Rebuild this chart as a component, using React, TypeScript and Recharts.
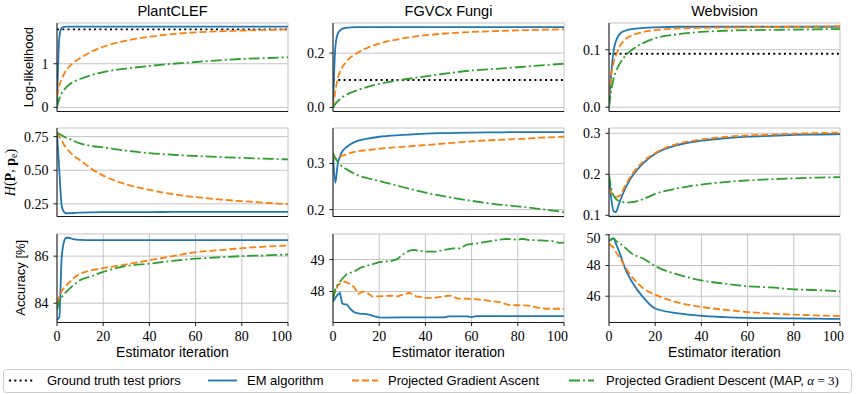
import React from 'react';
import { LineChart, Line, XAxis, YAxis, CartesianGrid } from 'recharts';

// ---------- categories / labels ----------
const DATASETS = ['PlantCLEF', 'FGVCx Fungi', 'Webvision'];
const X_LABEL = 'Estimator iteration';
const X_TICKS = [0, 20, 40, 60, 80, 100];
const ITER = [0, 1, 2, 3, 4, 5, 7, 10, 15, 20, 30, 40, 50, 60, 70, 80, 90, 100];

// ---------- PlantCLEF ----------
const plantLL_gt = 1.79;
const plantLL_em = [0, 1.6, 1.82, 1.845, 1.85, 1.85, 1.85, 1.85, 1.85, 1.85, 1.85, 1.85, 1.85, 1.85, 1.85, 1.85, 1.85, 1.85];
const plantLL_pga = [0.25, 0.5, 0.65, 0.76, 0.85, 0.92, 1.02, 1.13, 1.28, 1.39, 1.53, 1.62, 1.68, 1.72, 1.745, 1.76, 1.775, 1.785];
const plantLL_pgd = [0, 0.2, 0.32, 0.4, 0.46, 0.51, 0.58, 0.65, 0.74, 0.81, 0.89, 0.95, 1.0, 1.04, 1.08, 1.11, 1.13, 1.15];

const plantH_em = [0.78, 0.5, 0.24, 0.19, 0.18, 0.18, 0.182, 0.185, 0.187, 0.188, 0.189, 0.189, 0.19, 0.19, 0.19, 0.19, 0.19, 0.19];
const plantH_pga = [0.78, 0.75, 0.72, 0.69, 0.665, 0.645, 0.61, 0.575, 0.51, 0.46, 0.395, 0.354, 0.322, 0.3, 0.283, 0.27, 0.258, 0.248];
const plantH_pgd = [0.78, 0.77, 0.76, 0.75, 0.74, 0.735, 0.72, 0.7, 0.68, 0.67, 0.645, 0.627, 0.615, 0.606, 0.598, 0.592, 0.586, 0.58];

const plantAcc_em = [83.3, 83.4, 85.9, 86.6, 86.78, 86.78, 86.72, 86.69, 86.68, 86.68, 86.68, 86.68, 86.68, 86.68, 86.68, 86.68, 86.68, 86.68];
const plantAcc_pga = [84.0, 84.3, 84.5, 84.65, 84.75, 84.85, 85.05, 85.25, 85.4, 85.49, 85.65, 85.82, 86.0, 86.17, 86.25, 86.34, 86.4, 86.45];
const plantAcc_pgd = [83.7, 84.1, 84.25, 84.38, 84.48, 84.58, 84.75, 84.98, 85.15, 85.33, 85.58, 85.68, 85.8, 85.89, 85.95, 86.0, 86.03, 86.07];

// ---------- FGVCx Fungi ----------
const fungiLL_gt = 0.101;
const fungiLL_em = [0, 0.22, 0.27, 0.283, 0.29, 0.292, 0.294, 0.296, 0.296, 0.296, 0.296, 0.296, 0.296, 0.296, 0.296, 0.296, 0.296, 0.296];
const fungiLL_pga = [0, 0.06, 0.105, 0.13, 0.148, 0.16, 0.18, 0.198, 0.22, 0.235, 0.254, 0.266, 0.273, 0.278, 0.281, 0.284, 0.286, 0.288];
const fungiLL_pgd = [0, 0.012, 0.022, 0.03, 0.037, 0.043, 0.052, 0.062, 0.076, 0.087, 0.102, 0.114, 0.126, 0.136, 0.142, 0.148, 0.155, 0.161];

const fungiH_em = [0.321, 0.258, 0.297, 0.315, 0.326, 0.332, 0.34, 0.348, 0.354, 0.358, 0.362, 0.365, 0.366, 0.367, 0.3675, 0.368, 0.368, 0.368];
const fungiH_pga = [0.32, 0.31, 0.312, 0.315, 0.317, 0.318, 0.322, 0.326, 0.329, 0.332, 0.336, 0.34, 0.344, 0.348, 0.351, 0.353, 0.356, 0.358];
const fungiH_pgd = [0.322, 0.312, 0.304, 0.298, 0.293, 0.29, 0.284, 0.276, 0.268, 0.262, 0.249, 0.237, 0.227, 0.219, 0.212, 0.207, 0.201, 0.195];

const fungiAcc_em_x = [0, 1, 2, 3, 4, 5, 6, 7, 8, 9, 10, 12, 14, 16, 18, 20, 22, 30, 40, 48, 50, 58, 60, 62, 70, 80, 90, 100];
const fungiAcc_em = [47.69, 47.8, 47.9, 47.95, 47.62, 47.6, 47.6, 47.5, 47.42, 47.36, 47.33, 47.3, 47.3, 47.27, 47.22, 47.19, 47.18, 47.19, 47.19, 47.19, 47.22, 47.22, 47.2, 47.23, 47.23, 47.23, 47.23, 47.23];
const fungiAcc_pga_x = [0, 1, 2, 3, 5, 7, 9, 11, 13, 15, 17, 20, 25, 28, 33, 36, 40, 44, 48, 51, 54, 60, 65, 68, 72, 76, 80, 85, 88, 92, 100];
const fungiAcc_pga = [47.8, 48.0, 48.19, 48.24, 48.31, 48.25, 48.15, 47.93, 48.0, 47.95, 47.84, 47.85, 47.87, 47.85, 47.96, 47.85, 47.8, 47.8, 47.85, 47.87, 47.78, 47.77, 47.74, 47.7, 47.67, 47.58, 47.57, 47.56, 47.5, 47.46, 47.46];
const fungiAcc_pgd_x = [0, 1, 2, 4, 6, 8, 10, 12, 15, 20, 25, 28, 30, 33, 35, 40, 45, 48, 52, 55, 58, 62, 65, 70, 75, 80, 82, 85, 90, 95, 98, 100];
const fungiAcc_pgd = [47.75, 48.08, 48.2, 48.4, 48.55, 48.6, 48.66, 48.75, 48.81, 48.92, 48.95, 49.02, 49.15, 49.28, 49.3, 49.25, 49.25, 49.3, 49.35, 49.35, 49.47, 49.5, 49.54, 49.6, 49.65, 49.62, 49.65, 49.61, 49.6, 49.58, 49.52, 49.53];

// ---------- Webvision ----------
const webLL_gt = 0.093;
const webLL_em = [0, 0.06, 0.098, 0.115, 0.124, 0.129, 0.133, 0.136, 0.138, 0.139, 0.14, 0.14, 0.14, 0.14, 0.14, 0.14, 0.14, 0.14];
const webLL_pga = [0.02, 0.055, 0.078, 0.09, 0.1, 0.108, 0.118, 0.125, 0.131, 0.134, 0.137, 0.138, 0.1385, 0.139, 0.1395, 0.14, 0.1405, 0.141];
const webLL_pgd = [0, 0.03, 0.05, 0.062, 0.071, 0.078, 0.089, 0.1, 0.112, 0.12, 0.127, 0.131, 0.133, 0.134, 0.1345, 0.135, 0.1355, 0.136];

const webH_em = [0.196, 0.14, 0.11, 0.108, 0.122, 0.138, 0.165, 0.195, 0.228, 0.25, 0.272, 0.282, 0.288, 0.292, 0.294, 0.296, 0.297, 0.298];
const webH_pga = [0.165, 0.155, 0.148, 0.145, 0.146, 0.15, 0.172, 0.2, 0.232, 0.252, 0.275, 0.285, 0.291, 0.295, 0.297, 0.299, 0.3005, 0.302];
const webH_pgd = [0.2, 0.165, 0.148, 0.14, 0.136, 0.134, 0.131, 0.132, 0.14, 0.152, 0.166, 0.175, 0.181, 0.185, 0.188, 0.19, 0.192, 0.193];

const webAcc_em = [49.63, 49.7, 49.78, 49.42, 49.05, 48.66, 47.8, 46.93, 45.89, 45.2, 44.88, 44.72, 44.64, 44.59, 44.57, 44.56, 44.54, 44.52];
const webAcc_pga = [49.42, 49.3, 49.15, 48.87, 48.65, 48.43, 47.9, 47.25, 46.5, 46.1, 45.58, 45.3, 45.12, 44.97, 44.87, 44.8, 44.75, 44.71];
const webAcc_pgd = [49.6, 49.7, 49.75, 49.6, 49.5, 49.4, 49.15, 48.77, 48.44, 47.96, 47.4, 47.03, 46.82, 46.65, 46.57, 46.45, 46.4, 46.32];

// ---------- y ticks ----------
const yTicks = {
  plantLL: [0, 1], fungiLL: [0, 0.2], webLL: [0, 0.1],
  plantH: [0.25, 0.5, 0.75], fungiH: [0.2, 0.3], webH: [0.1, 0.2, 0.3],
  plantAcc: [84, 86], fungiAcc: [48, 49], webAcc: [46, 48, 50],
};

// ---------- styles ----------
const C_EM = '#1f77b4';
const C_PGA = '#ff7f0e';
const C_PGD = '#2ca02c';
const SANS = '"Liberation Sans", Arial, Helvetica, sans-serif';
const SERIF = '"Liberation Serif", "Times New Roman", serif';
const LW = 1.8;
const DASH_GT = '2 3.3';
const DASH_PGA = '7 3';
const DASH_PGD = '11 3 2 3';

const PW = 231;
const PH = 88.5;
const COL_X = [57, 333, 609];
const ROW_Y = [23, 128.3, 233.5];
const YW = 50;
const MT = 4;
const MR = 4;

const mk = (xs: number[], ys: number[]) => xs.map((x, i) => ({ x, y: ys[i] }));

type PanelSpec = {
  col: number;
  row: number;
  domain: [number, number];
  ticks: number[];
  dec: number;
  gt?: number;
  em: { x: number; y: number }[];
  pga: { x: number; y: number }[];
  pgd: { x: number; y: number }[];
  curve: 'monotone' | 'linear';
};

const PANELS: PanelSpec[] = [
  { col: 0, row: 0, domain: [-0.095, 1.935], ticks: yTicks.plantLL, dec: 0, gt: plantLL_gt, em: mk(ITER, plantLL_em), pga: mk(ITER, plantLL_pga), pgd: mk(ITER, plantLL_pgd), curve: 'monotone' },
  { col: 1, row: 0, domain: [-0.015, 0.311], ticks: yTicks.fungiLL, dec: 1, gt: fungiLL_gt, em: mk(ITER, fungiLL_em), pga: mk(ITER, fungiLL_pga), pgd: mk(ITER, fungiLL_pgd), curve: 'monotone' },
  { col: 2, row: 0, domain: [-0.0075, 0.1465], ticks: yTicks.webLL, dec: 1, gt: webLL_gt, em: mk(ITER, webLL_em), pga: mk(ITER, webLL_pga), pgd: mk(ITER, webLL_pgd), curve: 'monotone' },
  { col: 0, row: 1, domain: [0.156, 0.814], ticks: yTicks.plantH, dec: 2, em: mk(ITER, plantH_em), pga: mk(ITER, plantH_pga), pgd: mk(ITER, plantH_pgd), curve: 'monotone' },
  { col: 1, row: 1, domain: [0.185, 0.377], ticks: yTicks.fungiH, dec: 1, em: mk(ITER, fungiH_em), pga: mk(ITER, fungiH_pga), pgd: mk(ITER, fungiH_pgd), curve: 'monotone' },
  { col: 2, row: 1, domain: [0.097, 0.313], ticks: yTicks.webH, dec: 1, em: mk(ITER, webH_em), pga: mk(ITER, webH_pga), pgd: mk(ITER, webH_pgd), curve: 'monotone' },
  { col: 0, row: 2, domain: [83.18, 86.94], ticks: yTicks.plantAcc, dec: 0, em: mk(ITER, plantAcc_em), pga: mk(ITER, plantAcc_pga), pgd: mk(ITER, plantAcc_pgd), curve: 'monotone' },
  { col: 1, row: 2, domain: [47.03, 49.8], ticks: yTicks.fungiAcc, dec: 0, em: mk(fungiAcc_em_x, fungiAcc_em), pga: mk(fungiAcc_pga_x, fungiAcc_pga), pgd: mk(fungiAcc_pgd_x, fungiAcc_pgd), curve: 'linear' },
  { col: 2, row: 2, domain: [44.29, 50.05], ticks: yTicks.webAcc, dec: 0, em: mk(ITER, webAcc_em), pga: mk(ITER, webAcc_pga), pgd: mk(ITER, webAcc_pgd), curve: 'monotone' },
];

const tickStyle = { fontFamily: SERIF, fontSize: 14, fill: '#000' };
const spine = { stroke: '#1a1a1a', strokeWidth: 1 };

function Panel({ p }: { p: PanelSpec }) {
  const showX = p.row === 2;
  const xh = showX ? 26 : 8;
  const W = YW + PW + MR;
  const H = MT + PH + xh;
  return (
    <div style={{ position: 'absolute', left: COL_X[p.col] - YW, top: ROW_Y[p.row] - MT }}>
      <LineChart width={W} height={H} margin={{ top: MT, right: MR, bottom: 0, left: 0 }}>
        <CartesianGrid xAxisId="b" yAxisId="l" stroke="#c4c4c4" strokeWidth={1} />
        <XAxis
          xAxisId="b"
          type="number"
          dataKey="x"
          domain={[0, 100]}
          ticks={X_TICKS}
          allowDataOverflow
          height={xh}
          tickSize={3.5}
          tickMargin={5}
          tick={showX ? tickStyle : false}
          axisLine={spine}
          tickLine={spine}
        />
        <XAxis xAxisId="t" orientation="top" type="number" domain={[0, 100]} height={0} tick={false} tickLine={false} axisLine={spine} />
        <YAxis
          yAxisId="l"
          type="number"
          domain={p.domain}
          ticks={p.ticks}
          allowDataOverflow
          width={YW}
          tickSize={3.5}
          tickMargin={5}
          tick={tickStyle}
          tickFormatter={(v: number) => v.toFixed(p.dec)}
          axisLine={spine}
          tickLine={spine}
        />
        <YAxis yAxisId="r" orientation="right" type="number" domain={p.domain} width={0} tick={false} tickLine={false} axisLine={spine} />
        {p.gt !== undefined && (
          <Line xAxisId="b" yAxisId="l" data={mk([0, 100], [p.gt, p.gt])} dataKey="y" type="linear" stroke="#000" strokeWidth={LW} strokeDasharray={DASH_GT} dot={false} activeDot={false} isAnimationActive={false} />
        )}
        <Line xAxisId="b" yAxisId="l" data={p.em} dataKey="y" type={p.curve} stroke={C_EM} strokeWidth={LW} dot={false} activeDot={false} isAnimationActive={false} />
        <Line xAxisId="b" yAxisId="l" data={p.pga} dataKey="y" type={p.curve} stroke={C_PGA} strokeWidth={LW} strokeDasharray={DASH_PGA} dot={false} activeDot={false} isAnimationActive={false} />
        <Line xAxisId="b" yAxisId="l" data={p.pgd} dataKey="y" type={p.curve} stroke={C_PGD} strokeWidth={LW} strokeDasharray={DASH_PGD} dot={false} activeDot={false} isAnimationActive={false} />
      </LineChart>
    </div>
  );
}

export default function App() {
  const colCenter = (c: number) => COL_X[c] + PW / 2;
  const rowCenter = (r: number) => ROW_Y[r] + PH / 2;
  return (
    <div style={{ position: 'absolute', left: 0, top: 0, width: 856, height: 394, background: '#fff', overflow: 'hidden' }}>
      {PANELS.map((p, i) => (
        <Panel key={i} p={p} />
      ))}
      <svg width={856} height={394} style={{ position: 'absolute', left: 0, top: 0, pointerEvents: 'none' }}>
        {DATASETS.map((d, i) => (
          <text key={d} x={colCenter(i)} y={15.5} textAnchor="middle" fontFamily={SANS} fontSize={14.5} fill="#000">
            {d}
          </text>
        ))}
        {DATASETS.map((d, i) => (
          <text key={'xl' + d} x={colCenter(i)} y={357} textAnchor="middle" fontFamily={SANS} fontSize={14} fill="#000">
            {X_LABEL}
          </text>
        ))}
        <text x={28} y={rowCenter(0)} transform={`rotate(-90, 28, ${rowCenter(0)})`} textAnchor="middle" dominantBaseline="central" fontFamily={SANS} fontSize={13} fill="#000">
          Log-likelihood
        </text>
        <text x={10} y={rowCenter(1)} transform={`rotate(-90, 10, ${rowCenter(1)})`} textAnchor="middle" dominantBaseline="central" fontFamily={SERIF} fontSize={14} fill="#000">
          <tspan fontStyle="italic">H</tspan>(<tspan fontWeight="bold">P</tspan>, <tspan fontWeight="bold">p</tspan>
          <tspan fontSize={10} dy={3}>e</tspan>
          <tspan dy={-3}>)</tspan>
        </text>
        <text x={20} y={rowCenter(2)} transform={`rotate(-90, 20, ${rowCenter(2)})`} textAnchor="middle" dominantBaseline="central" fontFamily={SANS} fontSize={13} fill="#000">
          Accuracy [%]
        </text>
        {/* legend */}
        <rect x={3.5} y={369.5} width={848} height={23} rx={3} ry={3} fill="#fff" stroke="#cccccc" strokeWidth={1} />
        <line x1={9} x2={35} y1={380.5} y2={380.5} stroke="#000" strokeWidth={LW} strokeDasharray={DASH_GT} />
        <text x={47} y={385} fontFamily={SANS} fontSize={13} fill="#000">Ground truth test priors</text>
        <line x1={208} x2={237} y1={380.5} y2={380.5} stroke={C_EM} strokeWidth={LW} />
        <text x={247} y={385} fontFamily={SANS} fontSize={13} fill="#000">EM algorithm</text>
        <line x1={352} x2={378} y1={380.5} y2={380.5} stroke={C_PGA} strokeWidth={LW} strokeDasharray={DASH_PGA} />
        <text x={388} y={385} fontFamily={SANS} fontSize={13} fill="#000">Projected Gradient Ascent</text>
        <line x1={569} x2={594} y1={380.5} y2={380.5} stroke={C_PGD} strokeWidth={LW} strokeDasharray={DASH_PGD} />
        <text x={606} y={385} fontFamily={SANS} fontSize={13} fill="#000">
          Projected Gradient Descent (MAP, <tspan fontFamily={SERIF} fontStyle="italic">α</tspan>
          <tspan fontFamily={SERIF}> = 3)</tspan>
        </text>
      </svg>
    </div>
  );
}
